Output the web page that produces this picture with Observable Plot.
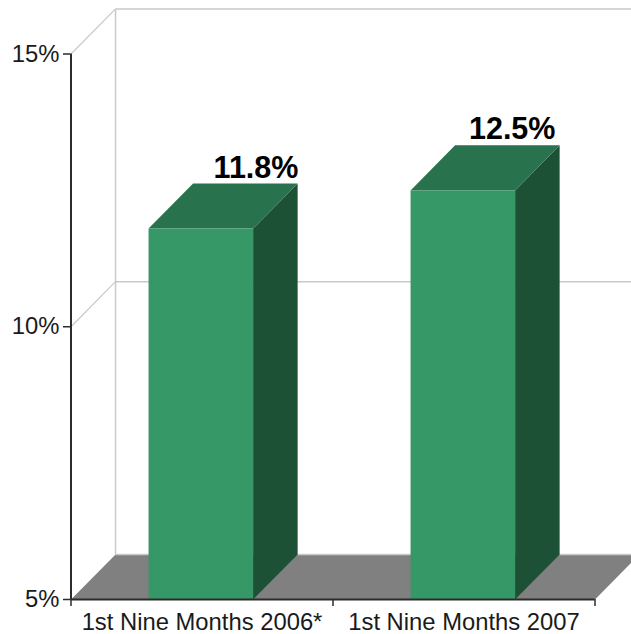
<!DOCTYPE html>
<html>
<head>
<meta charset="utf-8">
<script src="https://cdn.jsdelivr.net/npm/d3@7"></script>
<script src="https://cdn.jsdelivr.net/npm/@observablehq/plot@0.6"></script>
<style>
  html, body { margin: 0; padding: 0; background: #fff; }
  svg { display: block; }
</style>
</head>
<body>
<div id="chart"></div>
<script>
// Chart values
const categories = ["1st Nine Months 2006*", "1st Nine Months 2007"];
const values = [11.8, 12.5];
const valueLabels = ["11.8%", "12.5%"];
const yTicks = [5, 10, 15];

// Layout in data units: each category occupies one unit of x
const barStart = [0.296, 1.296];
const barWidth = 0.399;
const depthX = 0.17;    // receding offset along x
const depthY = 0.826;   // receding offset along y
const labelEnd = [0.868, 1.849];
const baseValue = 5;

// Builds a closed polygon row set for Plot.line
const polygon = (key, corners) => corners.map(([x, y]) => ({key, x, y}));

const floor = polygon("floor", [
  [0, baseValue], [2, baseValue],
  [2 + depthX, baseValue + depthY], [depthX, baseValue + depthY]
]);

const fronts = categories.map((c, i) => polygon(c, [
  [barStart[i], baseValue], [barStart[i] + barWidth, baseValue],
  [barStart[i] + barWidth, values[i]], [barStart[i], values[i]]
])).flat();

const tops = categories.map((c, i) => polygon(c, [
  [barStart[i], values[i]], [barStart[i] + barWidth, values[i]],
  [barStart[i] + barWidth + depthX, values[i] + depthY], [barStart[i] + depthX, values[i] + depthY]
])).flat();

const sides = categories.map((c, i) => polygon(c, [
  [barStart[i] + barWidth, baseValue], [barStart[i] + barWidth + depthX, baseValue + depthY],
  [barStart[i] + barWidth + depthX, values[i] + depthY], [barStart[i] + barWidth, values[i]]
])).flat();

const face = (rows, fill) => Plot.line(rows, {
  x: "x", y: "y", z: "key", fill, stroke: null, curve: "linear-closed"
});

const gridColor = "#c9c9c9";
const axisColor = "#2b2b2b";

const chart = Plot.plot({
  width: 631,
  height: 634,
  marginLeft: 70,
  marginRight: 37,
  marginTop: 53.5,
  marginBottom: 35,
  style: {fontFamily: "'Liberation Sans', Arial, sans-serif", background: "#fff", color: "#1a1a1a"},
  x: {domain: [0, 2], range: [70.5, 594.5], axis: null},
  y: {domain: [5, 15], range: [599, 53.5], axis: null},
  marks: [
    face(floor, "#808080"),
    // Back wall gridlines and the diagonals running to the front axis
    Plot.link(yTicks, {
      x1: depthX, x2: 2.3,
      y1: d => d + depthY, y2: d => d + depthY,
      stroke: gridColor, strokeWidth: 1.5
    }),
    Plot.link(yTicks.slice(1), {
      x1: 0, x2: depthX,
      y1: d => d, y2: d => d + depthY,
      stroke: gridColor, strokeWidth: 1.2
    }),
    Plot.link([0], {
      x1: depthX, x2: depthX,
      y1: baseValue + depthY, y2: 15 + depthY,
      stroke: gridColor, strokeWidth: 1.5
    }),
    // Three faces of each bar
    face(sides, "#1d5136"),
    face(tops, "#28724d"),
    face(fronts, "#359866"),
    // Value labels
    Plot.text(categories, {
      x: (d, i) => labelEnd[i],
      y: (d, i) => values[i] + depthY,
      text: (d, i) => valueLabels[i],
      textAnchor: "end",
      lineAnchor: "bottom",
      dy: -6,
      fontSize: 30.5,
      fontWeight: "bold",
      fill: "#000"
    }),
    // Axes
    Plot.ruleX([0], {y1: 5, y2: 15, stroke: axisColor, strokeWidth: 2}),
    Plot.ruleY([5], {x1: 0, x2: 2, stroke: axisColor, strokeWidth: 2}),
    Plot.axisY({
      ticks: yTicks, tickFormat: d => `${d}%`, tickSize: 7, tickPadding: 4, label: null,
      fontSize: 23.8, stroke: axisColor, strokeOpacity: 1, strokeWidth: 1.5, fill: "#1a1a1a"
    }),
    Plot.axisX({
      ticks: [0, 1, 2], tickFormat: () => "", tickSize: 7, label: null,
      stroke: axisColor, strokeOpacity: 1, strokeWidth: 1.5
    }),
    Plot.axisX({
      ticks: [0.5, 1.5], tickFormat: (d, i) => categories[i], tickSize: 0, tickPadding: 14, label: null,
      fontSize: 23.8, fill: "#1a1a1a", stroke: null
    })
  ]
});

document.getElementById("chart").append(chart);
</script>
</body>
</html>
